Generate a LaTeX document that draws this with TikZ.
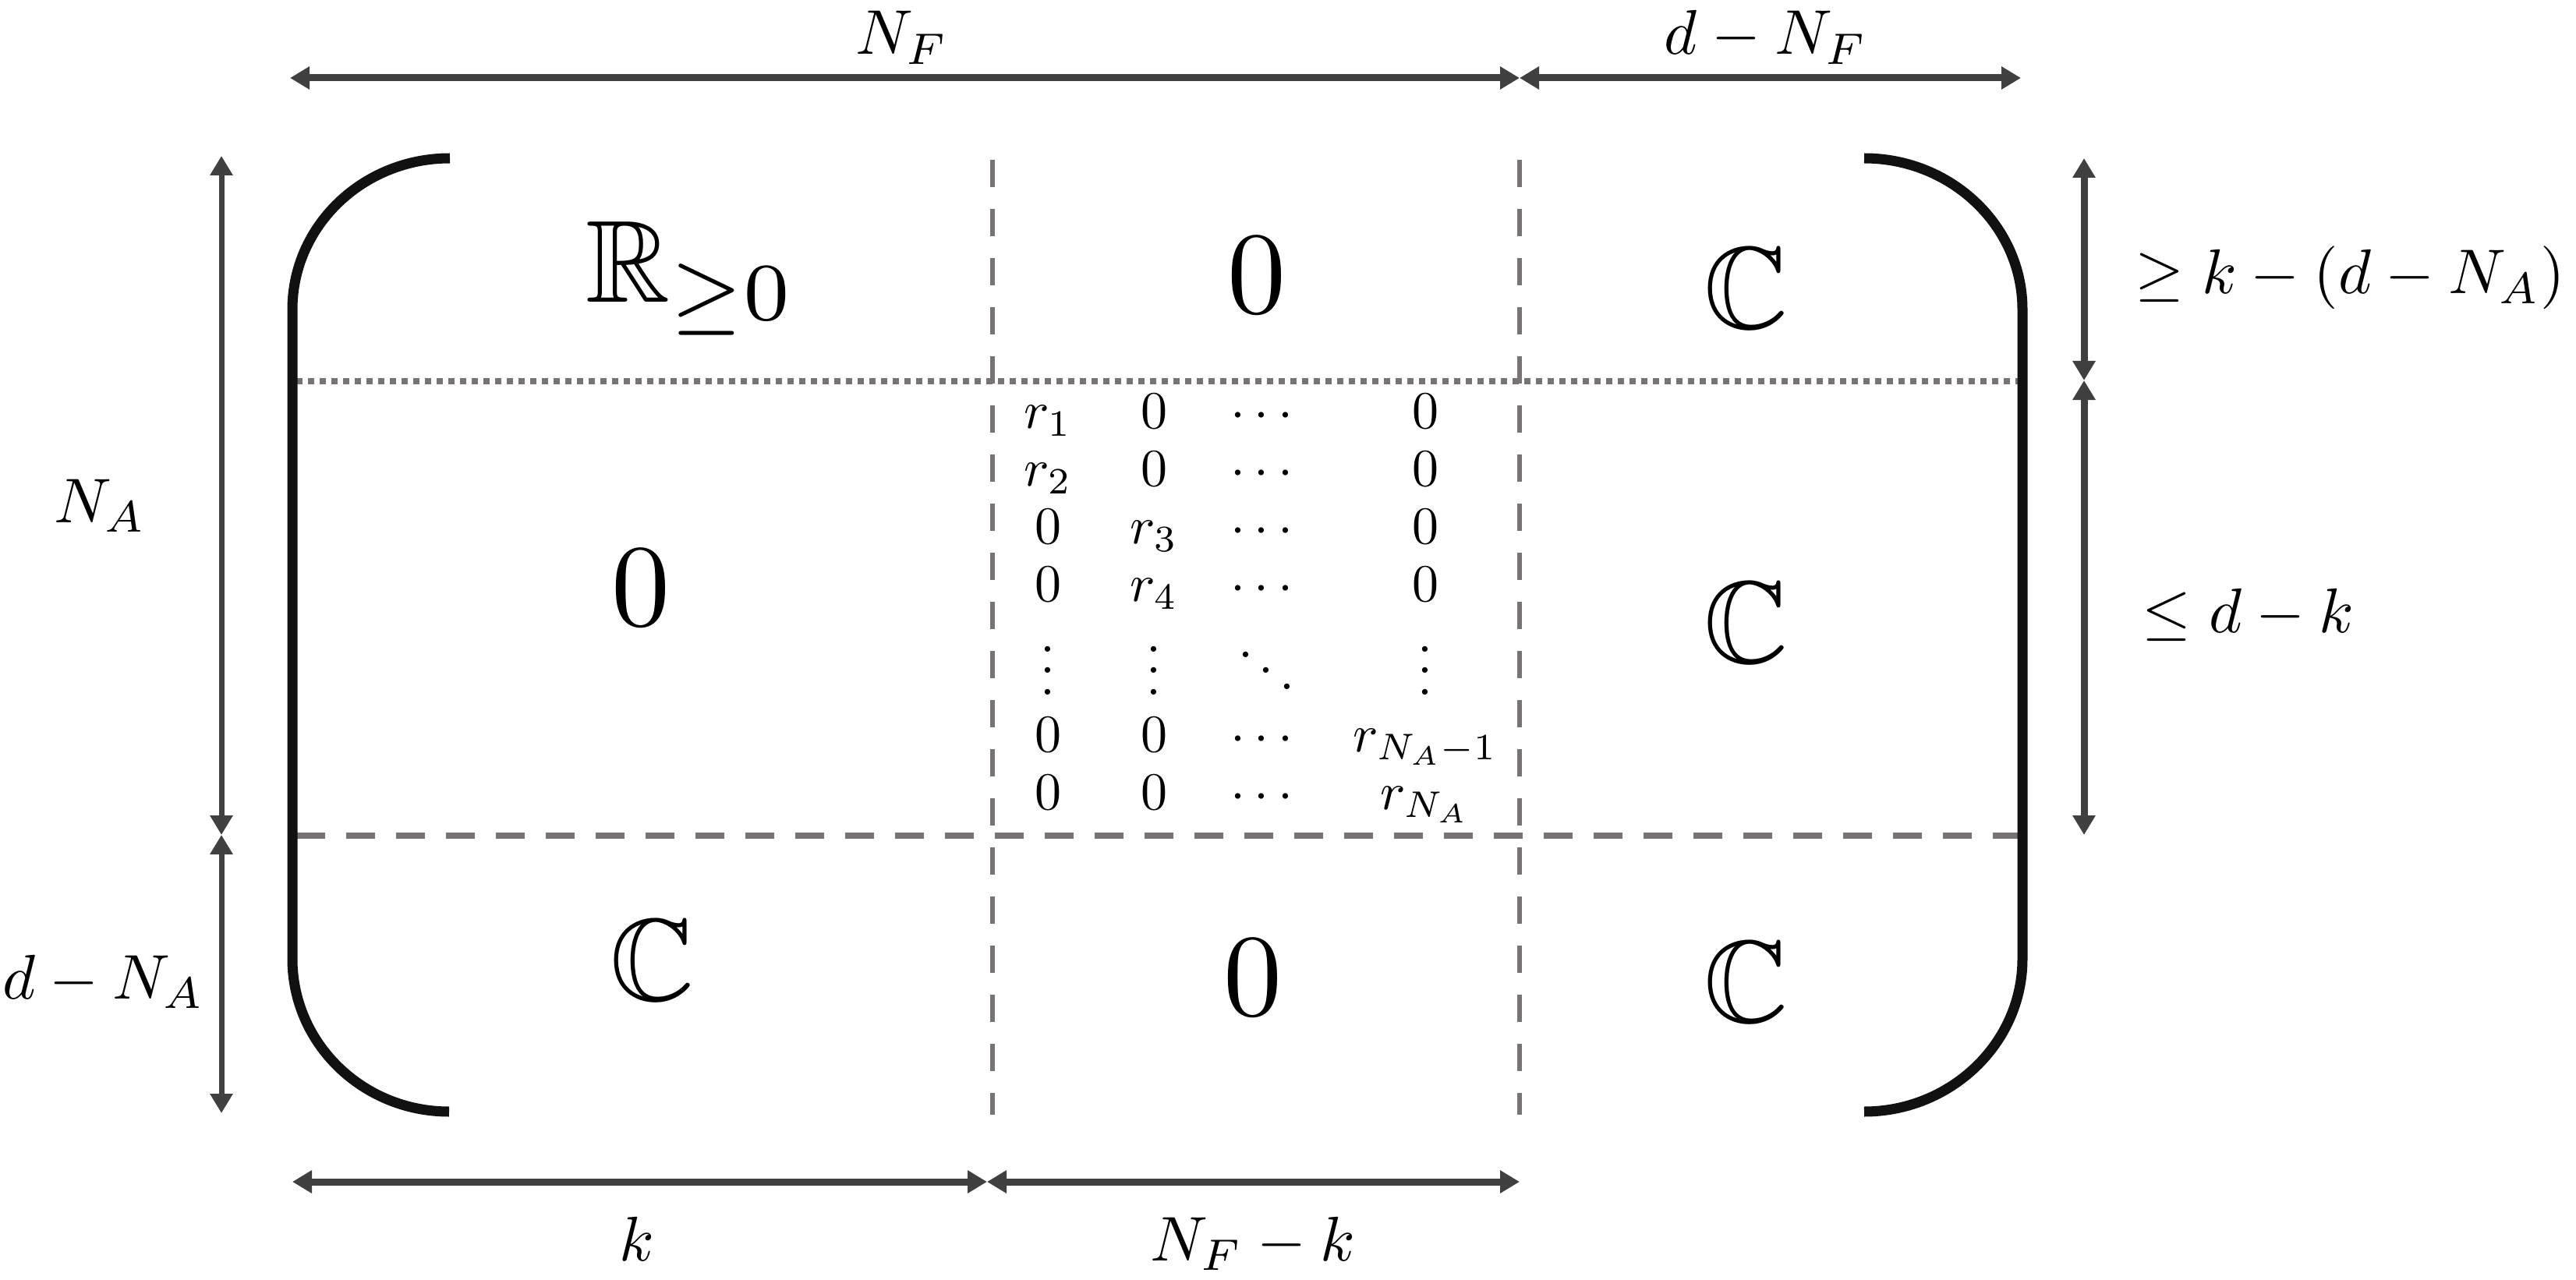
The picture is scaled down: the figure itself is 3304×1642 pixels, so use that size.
\documentclass[tikz,border=0pt]{standalone}
\usepackage{amsmath,amssymb}
\usetikzlibrary{arrows.meta}
\definecolor{arrowgray}{HTML}{404040}
\definecolor{linegray}{HTML}{787474}
\definecolor{brk}{HTML}{111111}
\begin{document}
\begin{tikzpicture}[x=0.5pt,y=-0.5pt,
  dimarrow/.style={draw=arrowgray, line width=4.5pt,
    {Triangle[length=12.5pt,width=14pt]}-{Triangle[length=12.5pt,width=14pt]}},
  thinarrow/.style={dimarrow, line width=3.5pt},
  lab/.style={inner sep=0pt, scale=4.05},
  big/.style={inner sep=0pt, scale=7.5, anchor=base},
  ent/.style={inner sep=0pt, scale=3.4, anchor=base},
  vdash/.style={draw=linegray, line width=3pt, dash pattern=on 17.5pt off 14pt},
  hdash/.style={draw=linegray, line width=4pt, dash pattern=on 18.5pt off 13.5pt},
  hdot/.style={draw=linegray, line width=4pt, dash pattern=on 4pt off 3.5pt},
  bracket/.style={draw=brk, line width=6.5pt}]
\useasboundingbox (0,0) rectangle (3304,1642);

% grid lines
\coordinate (v1t) at (1273,205); \coordinate (v1b) at (1273,1430);
\coordinate (v2t) at (1949,205); \coordinate (v2b) at (1949,1430);
\coordinate (h1l) at (380,489);  \coordinate (h1r) at (2592,489);
\coordinate (h2l) at (380,1072); \coordinate (h2r) at (2592,1072);
\draw[vdash] (v1t) -- (v1b);
\draw[vdash] (v2t) -- (v2b);
\draw[hdot] (h1l) -- (h1r);
\draw[hdash] (h2l) -- (h2r);

% brackets
\draw[bracket] (577,203) .. controls (465.4,203) and (375,289.9) .. (375,397)
  -- (375,1230) .. controls (375,1338.3) and (465,1426) .. (576,1426);
\draw[bracket] (2391,203) .. controls (2502.6,203) and (2594,289.9) .. (2594,397)
  -- (2594,1230) .. controls (2594,1338.3) and (2502,1426) .. (2391,1426);

% top dimension arrows
\coordinate (tL) at (372,100); \coordinate (tM) at (1949,100); \coordinate (tR) at (2592,100);
\draw[dimarrow] (tL) -- (tM);
\draw[dimarrow] (tM) -- (tR);
\node[lab, anchor=base] (lNF) at (1157,70) {$N_F$};
\node[lab, anchor=base] (ldNF) at (2265,70) {$d-N_F$};

% left dimension arrows
\coordinate (lT) at (284,200); \coordinate (lM) at (284,1071); \coordinate (lB) at (284,1428);
\draw[thinarrow] (lT) -- (lM);
\draw[thinarrow] (lM) -- (lB);
\node[lab, anchor=base] (lNA) at (128,670) {$N_A$};
\node[lab, anchor=base] (ldNA) at (133,1281) {$d-N_A$};

% right dimension arrows
\coordinate (rT) at (2673,203); \coordinate (rM) at (2673,488); \coordinate (rB) at (2673,1071);
\draw[dimarrow] (rT) -- (rM);
\draw[dimarrow] (rM) -- (rB);
\node[lab, anchor=base west] (lge) at (2737,377) {$\geq k-(d-N_A)$};
\node[lab, anchor=base west] (lle) at (2746,811) {$\leq d-k$};

% bottom dimension arrows
\coordinate (bL) at (375,1516); \coordinate (bM) at (1266,1516); \coordinate (bR) at (1949,1516);
\draw[dimarrow] (bL) -- (bM);
\draw[dimarrow] (bM) -- (bR);
\node[lab, anchor=base] (lk) at (817,1617) {$k$};
\node[lab, anchor=base] (lNFk) at (1607,1617) {$N_F-k$};

% block entries
\node[big, anchor=base west] (b11) at (748,388) {$\mathbb{R}_{\geq 0}$};
\node[big] (b12) at (1612,402) {$0$};
\node[big] (b13) at (2240,422) {$\mathbb{C}$};
\node[big] (b21) at (822,802) {$0$};
\node[big] (b23) at (2240,850) {$\mathbb{C}$};
\node[big] (b31) at (837,1283) {$\mathbb{C}$};
\node[big] (b32) at (1607,1302) {$0$};
\node[big] (b33) at (2240,1311) {$\mathbb{C}$};

% inner diagonal matrix
\node[ent] (m11) at (1344,549) {$r_1$};
\node[ent] (m12) at (1480,549) {$0$};
\node[ent] (m13) at (1624,549) {$\cdots$};
\node[ent] (m14) at (1828,549) {$0$};
\node[ent] (m21) at (1344,623) {$r_2$};
\node[ent] (m22) at (1480,623) {$0$};
\node[ent] (m23) at (1624,623) {$\cdots$};
\node[ent] (m24) at (1828,623) {$0$};
\node[ent] (m31) at (1344,697) {$0$};
\node[ent] (m32) at (1480,697) {$r_3$};
\node[ent] (m33) at (1624,697) {$\cdots$};
\node[ent] (m34) at (1828,697) {$0$};
\node[ent] (m41) at (1344,771) {$0$};
\node[ent] (m42) at (1480,771) {$r_4$};
\node[ent] (m43) at (1624,771) {$\cdots$};
\node[ent] (m44) at (1828,771) {$0$};
\node[ent] (m51) at (1344,891) {$\smash{\vdots}$};
\node[ent] (m52) at (1480,891) {$\smash{\vdots}$};
\node[ent] (m53) at (1624,891) {$\smash{\ddots}$};
\node[ent] (m54) at (1828,891) {$\smash{\vdots}$};
\node[ent] (m61) at (1344,964) {$0$};
\node[ent] (m62) at (1480,964) {$0$};
\node[ent] (m63) at (1624,964) {$\cdots$};
\node[ent] (m64) at (1828,964) {$r_{N_A-1}$};
\node[ent] (m71) at (1344,1038) {$0$};
\node[ent] (m72) at (1480,1038) {$0$};
\node[ent] (m73) at (1624,1038) {$\cdots$};
\node[ent] (m74) at (1828,1038) {$r_{N_A}$};
\end{tikzpicture}
\end{document}
